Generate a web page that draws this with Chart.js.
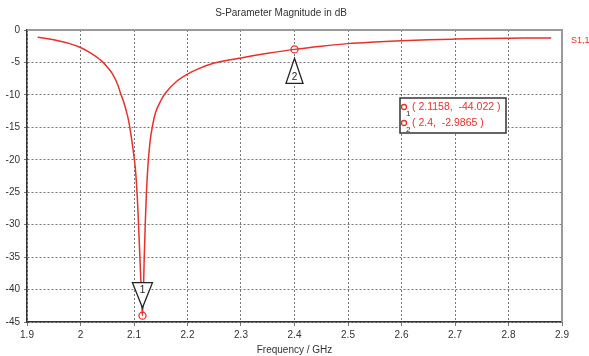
<!DOCTYPE html>
<html>
<head>
<meta charset="utf-8">
<script src="https://cdn.jsdelivr.net/npm/chart.js@4/dist/chart.umd.min.js"></script>
<style>
  html, body { margin: 0; padding: 0; background: #fff; }
  #wrap { width: 589px; height: 356px; }
</style>
</head>
<body>
<div id="wrap"><canvas id="c" width="589" height="356"></canvas></div>
<script>
// S11 sweep, frequency in GHz and magnitude in dB
const freqGHz = [1.92, 1.95, 1.98, 2.00, 2.02, 2.04, 2.05, 2.06, 2.07, 2.075, 2.08, 2.085, 2.09, 2.095,
  2.10, 2.103, 2.106, 2.108, 2.11, 2.112, 2.114, 2.1158, 2.1175, 2.119, 2.121, 2.123, 2.126, 2.13,
  2.135, 2.14, 2.15, 2.16, 2.18, 2.20, 2.22, 2.25, 2.30, 2.35, 2.40, 2.45, 2.50, 2.55, 2.60, 2.65,
  2.70, 2.75, 2.80, 2.85, 2.88];
const s11dB = [-1.1, -1.5, -2.1, -2.7, -3.6, -4.8, -5.7, -6.8, -8.5, -9.8, -10.9, -12.3, -14.0, -16.5,
  -19.5, -21.8, -25.5, -29, -33, -37, -41, -44.022, -40.5, -35.5, -30, -25.5, -21, -17.2,
  -14.6, -12.8, -10.9, -9.6, -7.9, -6.8, -6.0, -5.1, -4.3, -3.6, -2.9865, -2.5, -2.1, -1.85, -1.65, -1.5,
  -1.4, -1.32, -1.27, -1.24, -1.22];

// markers
const markerIds = ['1', '2'];
const markerFreq = [2.1158, 2.4];
const markerDb = [-44.022, -2.9865];

const RED = '#e8302c';
const FONT = 'Liberation Sans';

const curve = freqGHz.map((f, i) => ({ x: f, y: s11dB[i] }));
const marks = markerFreq.map((f, i) => ({ x: f, y: markerDb[i] }));

// frame, marker triangles, marker table and trace name
const overlay = {
  id: 'overlay',
  afterDatasetsDraw(chart) {
    const { ctx, chartArea: a, scales } = chart;
    ctx.save();
    ctx.strokeStyle = '#9a9a9a';
    ctx.lineWidth = 2;
    ctx.beginPath();
    ctx.moveTo(a.left, a.top);
    ctx.lineTo(a.right, a.top);
    ctx.lineTo(a.right, a.bottom);
    ctx.stroke();

    markerIds.forEach((id, i) => {
      const px = scales.x.getPixelForValue(markerFreq[i]);
      const py = scales.y.getPixelForValue(markerDb[i]);
      const down = i === 0;
      const apex = down ? py - 8 : py + 9;
      const base = down ? apex - 25 : apex + 25;
      const hw = down ? 10 : 8.5;
      ctx.beginPath();
      ctx.moveTo(px, apex);
      ctx.lineTo(px - hw, base);
      ctx.lineTo(px + hw, base);
      ctx.closePath();
      ctx.fillStyle = '#fff';
      ctx.fill();
      ctx.strokeStyle = '#222';
      ctx.lineWidth = 1.3;
      ctx.stroke();
      ctx.fillStyle = '#222';
      ctx.font = '10px ' + FONT;
      ctx.textAlign = 'center';
      ctx.textBaseline = 'middle';
      ctx.fillText(id, px, down ? base + 8 : base - 6);
    });

    // marker readout box
    const bx = 400, by = 98, bw = 106, bh = 35;
    ctx.fillStyle = '#fff';
    ctx.fillRect(bx, by, bw, bh);
    ctx.strokeStyle = '#333';
    ctx.lineWidth = 1.5;
    ctx.strokeRect(bx, by, bw, bh);
    markerIds.forEach((id, i) => {
      const ry = by + 9 + i * 16;
      ctx.beginPath();
      ctx.arc(bx + 4, ry, 2.5, 0, Math.PI * 2);
      ctx.strokeStyle = RED;
      ctx.lineWidth = 1.3;
      ctx.stroke();
      ctx.fillStyle = '#333';
      ctx.font = '8px ' + FONT;
      ctx.textAlign = 'left';
      ctx.textBaseline = 'middle';
      ctx.fillText(id, bx + 6, ry + 7);
      ctx.fillStyle = RED;
      ctx.font = '10.5px ' + FONT;
      ctx.fillText('( ' + markerFreq[i] + ',  ' + markerDb[i] + ' )', bx + 12, ry);
    });

    ctx.fillStyle = RED;
    ctx.font = '9px ' + FONT;
    ctx.textAlign = 'left';
    ctx.textBaseline = 'middle';
    ctx.fillText(chart.data.datasets[0].label, a.right + 9, 41);
    ctx.restore();
  }
};

new Chart(document.getElementById('c'), {
  type: 'scatter',
  data: {
    datasets: [
      {
        label: 'S1,1',
        data: curve,
        showLine: true,
        borderColor: RED,
        borderWidth: 1.5,
        pointRadius: 0,
        cubicInterpolationMode: 'monotone'
      },
      {
        label: 'markers',
        data: marks,
        showLine: false,
        pointRadius: 3.5,
        pointBackgroundColor: '#fff',
        pointBorderColor: RED,
        pointBorderWidth: 1.3
      }
    ]
  },
  options: {
    responsive: false,
    animation: false,
    events: [],
    layout: { padding: { left: 0, right: 27, top: 0, bottom: 0 } },
    plugins: {
      legend: { display: false },
      tooltip: { enabled: false },
      title: {
        display: true,
        text: 'S-Parameter Magnitude in dB',
        color: '#333',
        font: { family: FONT, size: 10, weight: 'normal' },
        padding: { top: 7, bottom: 11 }
      }
    },
    scales: {
      x: {
        type: 'linear',
        min: 1.9,
        max: 2.9,
        afterFit: s => { s.height = 34; },
        ticks: {
          stepSize: 0.1,
          color: '#333',
          font: { family: FONT, size: 10 },
          padding: 3,
          callback: v => +v.toFixed(1)
        },
        grid: { color: '#777', tickLength: 4, tickBorderDash: [] },
        border: { color: '#333', width: 1.5, dash: [2, 2] },
        title: {
          display: true,
          text: 'Frequency / GHz',
          color: '#333',
          font: { family: FONT, size: 10 },
          padding: { top: 0, bottom: 0 }
        }
      },
      y: {
        min: -45,
        max: 0,
        afterFit: s => { s.width = 27; },
        ticks: {
          stepSize: 5,
          color: '#333',
          font: { family: FONT, size: 10 },
          padding: 4
        },
        grid: { color: '#777', tickLength: 3, tickBorderDash: [] },
        border: { color: '#333', width: 1.5, dash: [2, 2] }
      }
    }
  },
  plugins: [overlay]
});
</script>
</body>
</html>
